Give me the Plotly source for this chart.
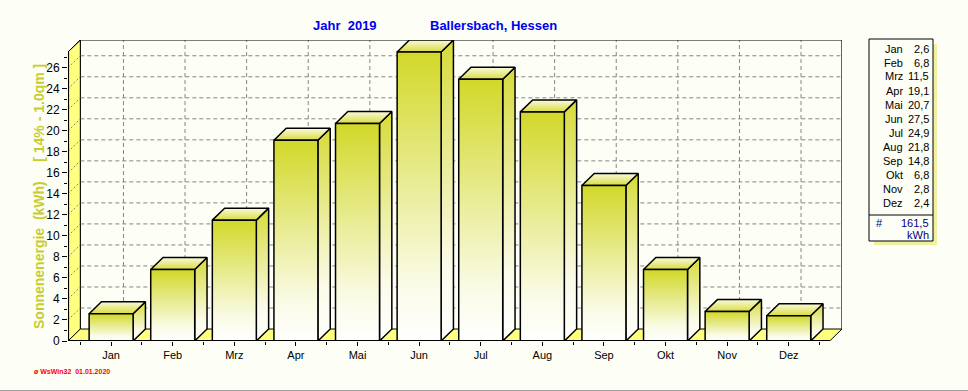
import plotly.graph_objects as go

# ---------------- data ----------------
months = ["Jan", "Feb", "Mrz", "Apr", "Mai", "Jun", "Jul", "Aug", "Sep", "Okt", "Nov", "Dez"]
values = [2.6, 6.8, 11.5, 19.1, 20.7, 27.5, 24.9, 21.8, 14.8, 6.8, 2.8, 2.4]
total_kwh = 161.5
y_ticks = list(range(0, 27, 2))
y_minor_ticks = list(range(1, 28, 2))

title_left = "Jahr  2019"
title_right = "Ballersbach, Hessen"
y_title = "Sonnenenergie\u00a0\u00a0(kWh)\u00a0\u00a0\u00a0\u00a0\u00a0[ 14% - 1.0qm ]"
unit = "kWh"
stamp = "\u00f8 WsWin32  01.01.2020"

# ---------------- geometry / style ----------------
W, H = 968, 391
ML, MR, MT, MB = 68, 126, 40, 50
PW, PH = W - ML - MR, H - MT - MB
BG = "#FDFEF5"
WALL = "#FFFF80"
GRID = "#858585"
BAR_TOP = "#D2D829"
FONT = "Liberation Sans, Arial, sans-serif"

X_LEFT, X_RIGHT = -0.70, 11.665
DX, DY = 0.20, 1.14
HALF_W = 0.357
Y_TOP = max(values)
n = len(months)


def px_x(px):
    return (px - ML) / PW


def px_y(py):
    return 1 - (py - MT) / PH


fig = go.Figure()


def poly(xs, ys, fill=None, grad=None, line_w=1.0, line_c="black"):
    kw = dict(x=xs + [xs[0]], y=ys + [ys[0]], mode="lines",
              line=dict(color=line_c, width=line_w), hoverinfo="skip",
              showlegend=False, fill="toself")
    if grad is not None:
        kw["fillgradient"] = grad
    else:
        kw["fillcolor"] = fill
    fig.add_trace(go.Scatter(**kw))


def lines(segs, color="black", width=1.0, dash=None):
    xs, ys = [], []
    for (x0, y0, x1, y1) in segs:
        xs += [x0, x1, None]
        ys += [y0, y1, None]
    fig.add_trace(go.Scatter(x=xs, y=ys, mode="lines",
                             line=dict(color=color, width=width, dash=dash),
                             hoverinfo="skip", showlegend=False))


# back wall grid
hseg = [(X_LEFT + DX, v + DY, X_RIGHT + DX, v + DY) for v in y_ticks[1:]]
vseg = [(i + DX, DY, i + DX, Y_TOP + DY) for i in range(n)]
lines(hseg + vseg, color=GRID, width=1, dash="4px,3px")

# back wall outline
fig.add_trace(go.Scatter(
    x=[X_LEFT + DX, X_LEFT + DX, X_RIGHT + DX, X_RIGHT + DX],
    y=[DY, Y_TOP + DY, Y_TOP + DY, DY], mode="lines",
    line=dict(color="black", width=1.2), hoverinfo="skip", showlegend=False))

# left wall
poly([X_LEFT, X_LEFT, X_LEFT + DX, X_LEFT + DX], [0, Y_TOP, Y_TOP + DY, DY], fill=WALL)
lines([(X_LEFT, v, X_LEFT + DX, v + DY) for v in y_ticks[1:]], color=GRID, width=1, dash="2px,2px")

# floor
poly([X_LEFT, X_RIGHT, X_RIGHT + DX, X_LEFT + DX], [0, 0, DY, DY], fill=WALL)

# bars
for i, v in enumerate(values):
    x0, x1 = i - HALF_W, i + HALF_W
    # side face
    poly([x1, x1 + DX, x1 + DX, x1], [0, DY, v + DY, v],
         grad=dict(type="vertical", start=0, stop=v + DY,
                   colorscale=[[0, "#FFFFFF"], [0.25, "#FBFBEA"], [1, "#D6DB3A"]]),
         line_w=1.5)
    # top face
    poly([x0, x1, x1 + DX, x0 + DX], [v, v, v + DY, v + DY],
         grad=dict(type="vertical", start=v, stop=v + DY,
                   colorscale=[[0, "#D8DC40"], [1, "#FAFADC"]]),
         line_w=1.5)
    # front face
    poly([x0, x1, x1, x0], [0, 0, v, v],
         grad=dict(type="vertical", start=0, stop=v,
                   colorscale=[[0, "#FFFFFF"], [0.2, "#FAFBE6"], [1, BAR_TOP]]),
         line_w=1.5)

# front axis lines
lines([(X_LEFT, 0, X_LEFT, Y_TOP), (X_LEFT, 0, X_RIGHT, 0)], color="black", width=2.2)
lines([(X_LEFT, Y_TOP, X_LEFT + DX, Y_TOP + DY)], color="black", width=1)

# ---------------- annotations ----------------
ann = []


def text(t, px, py, size, color, xanchor="center", angle=0):
    ann.append(dict(text=t, x=px_x(px), y=px_y(py), xref="paper", yref="paper",
                    xanchor=xanchor, yanchor="middle", textangle=angle, showarrow=False,
                    borderpad=0, font=dict(family=FONT, size=size, color=color)))


text("<b>%s</b>" % title_left, 345, 25, 13, "#0000F0")
text("<b>%s</b>" % title_right, 493, 25, 13, "#0000F0")
text("<b>%s</b>" % y_title, 39, 197, 14, "#C8CC30", angle=-90)
text("<b>%s</b>" % stamp, 33, 371, 7, "#FF0000", xanchor="left")

for i, (m, v) in enumerate(zip(months, values)):
    yy = 48.5 + i * 14.0
    text(m, 904, yy, 11, "black", xanchor="right")
    text(("%.1f" % v).replace(".", ","), 930, yy, 11, "black", xanchor="right")
text("#", 879, 223, 11, "#000080")
text(("%.1f" % total_kwh).replace(".", ","), 930, 223, 11, "#000080", xanchor="right")
text(unit, 930, 235, 11, "#000080", xanchor="right")

shapes = [
    # legend shadow
    dict(type="rect", xref="paper", yref="paper", x0=px_x(874), x1=px_x(937), y0=px_y(245), y1=px_y(44),
         fillcolor="#F0F0A0", line=dict(width=0), layer="below"),
    # legend box
    dict(type="rect", xref="paper", yref="paper", x0=px_x(869), x1=px_x(933), y0=px_y(241), y1=px_y(39),
         fillcolor=BG, line=dict(color="black", width=1)),
    dict(type="line", xref="paper", yref="paper", x0=px_x(869), x1=px_x(933), y0=px_y(215), y1=px_y(215),
         line=dict(color="black", width=1)),
    # bottom frame line
    dict(type="line", xref="paper", yref="paper", x0=px_x(0), x1=px_x(968), y0=px_y(390.5), y1=px_y(390.5),
         line=dict(color="#A0A0A0", width=1)),
]

fig.update_layout(
    width=W, height=H, autosize=False,
    margin=dict(l=ML, r=MR, t=MT, b=MB, pad=0),
    paper_bgcolor=BG, plot_bgcolor=BG,
    showlegend=False,
    annotations=ann, shapes=shapes,
    font=dict(family=FONT, size=11, color="black"),
    xaxis=dict(range=[X_LEFT, X_RIGHT + DX], tickvals=list(range(n)), ticktext=months,
               ticks="outside", ticklen=4, tickcolor="black", tickwidth=1,
               minor=dict(tickvals=[i + 0.5 for i in range(-1, n)], ticks="outside", ticklen=3,
                          tickcolor="black"),
               showgrid=False, zeroline=False, showline=False, fixedrange=True,
               tickfont=dict(family=FONT, size=11, color="black")),
    yaxis=dict(range=[0, Y_TOP + DY], tickvals=y_ticks, ticks="outside", ticklen=5,
               tickcolor="black", tickwidth=1,
               minor=dict(tickvals=y_minor_ticks, ticks="outside", ticklen=3, tickcolor="black"),
               showgrid=False, zeroline=False, showline=False, fixedrange=True,
               tickfont=dict(family=FONT, size=12, color="black")),
)

fig.write_html("out.html", config={"displayModeBar": False},
               post_script="document.body.style.margin='0';document.body.style.background='%s';" % BG)
